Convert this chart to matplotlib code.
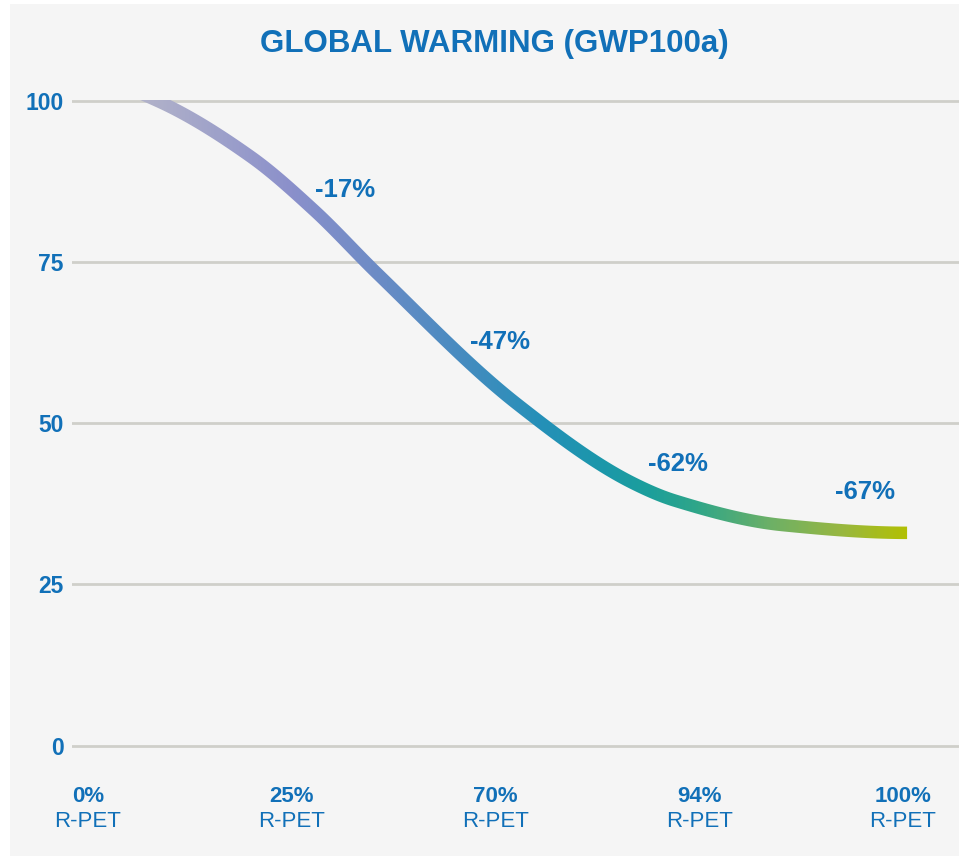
import numpy as np
import matplotlib
matplotlib.use('Agg')
import matplotlib.pyplot as plt
from matplotlib.colors import LinearSegmentedColormap
from matplotlib.patches import Polygon, Rectangle

plt.rcParams['font.family'] = ['Liberation Sans', 'DejaVu Sans']

title = 'GLOBAL WARMING (GWP100a)'
categories = ['0%', '25%', '70%', '94%', '100%']
sub_label = 'R-PET'
y_ticks = [0, 25, 50, 75, 100]

# relative GWP along the curve (x in category units)
curve_x = [0.34, 0.80, 1.11, 1.42, 2.105, 2.675, 2.88, 3.41, 4.02]
curve_y = [100, 91.3, 83, 73.2, 53, 40.7, 38, 34.2, 33]
# curve points carrying a reduction label
label_idx = [2, 4, 6, 8]
label_offsets = [(31, 20), (-17, 62), (3, 37), (-42, 41)]  # pixels

BLUE = '#1170b8'
BG = '#f5f5f5'
GRID = '#cfcfca'
LINE_W = 12.5  # px

# gradient stops along x (category units)
grad_stops = [(0.30, '#b0b1c9'), (0.99, '#8b90cb'), (1.38, '#6f8cc6'),
              (1.78, '#4b8bc1'), (2.22, '#2590b8'), (2.51, '#1b97ab'),
              (2.76, '#1c9f9b'), (3.00, '#30a688'), (3.35, '#6cb067'),
              (3.69, '#97b742'), (4.02, '#b2c004')]


def pchip(x, y, xs):
    x = np.asarray(x, float)
    y = np.asarray(y, float)
    h = np.diff(x)
    d = np.diff(y) / h
    n = len(x)
    m = np.zeros(n)
    for k in range(1, n - 1):
        if d[k - 1] * d[k] > 0:
            w1 = 2 * h[k] + h[k - 1]
            w2 = h[k] + 2 * h[k - 1]
            m[k] = (w1 + w2) / (w1 / d[k - 1] + w2 / d[k])
    for k, (a, b, da, db) in ((0, (h[0], h[1], d[0], d[1])), (n - 1, (h[-1], h[-2], d[-1], d[-2]))):
        v = ((2 * a + b) * da - a * db) / (a + b)
        if np.sign(v) != np.sign(da):
            v = 0.0
        m[k] = v
    idx = np.clip(np.searchsorted(x, xs) - 1, 0, n - 2)
    t = (xs - x[idx]) / h[idx]
    h00 = 2 * t**3 - 3 * t**2 + 1
    h10 = t**3 - 2 * t**2 + t
    h01 = -2 * t**3 + 3 * t**2
    h11 = t**3 - t**2
    ys = h00 * y[idx] + h10 * h[idx] * m[idx] + h01 * y[idx + 1] + h11 * h[idx] * m[idx + 1]
    # straight continuation before the first point
    before = xs < x[0]
    ys[before] = y[0] + m[0] * (xs[before] - x[0])
    return ys


W, H = 959, 856
fig = plt.figure(figsize=(W / 100, H / 100), dpi=100)
fig.patch.set_facecolor('white')
fig.add_artist(Rectangle((10 / W, 0), 1, (H - 4) / H, transform=fig.transFigure,
                         facecolor=BG, edgecolor='none', zorder=0))

# axes placed in pixels: x from 72 to right edge, y value -3 at 765px, 103 at 81.4px
top_px, bot_px = 81.4, 765.0
ax = fig.add_axes([72 / W, 1 - bot_px / H, (W - 72) / W, (bot_px - top_px) / H])
ax.set_facecolor('none')
for s in ax.spines.values():
    s.set_visible(False)

ax.set_yticks(y_ticks)
ax.set_yticklabels([str(v) for v in y_ticks])
ax.tick_params(axis='y', length=0, pad=6, labelsize=16.5, labelcolor=BLUE)
for lab in ax.get_yticklabels():
    lab.set_fontweight('bold')
ax.set_xticks([])
ax.grid(axis='y', color=GRID, linewidth=2)
ax.set_axisbelow(True)
ax.set_xlim(-0.0785, 4.2748)
ax.set_ylim(-3, 103)

# x category labels
for i, cat in enumerate(categories):
    ax.annotate(cat, xy=(i, 0), xytext=(0, -51), textcoords='offset pixels',
                ha='center', va='center', fontsize=16, fontweight='bold', color=BLUE)
    ax.annotate(sub_label, xy=(i, 0), xytext=(0, -76), textcoords='offset pixels',
                ha='center', va='center', fontsize=16, color=BLUE)

# thick gradient curve: stroke outline built in pixel space, filled by a gradient image
xs = np.linspace(curve_x[0] - 0.1, curve_x[-1], 1200)
ys = pchip(curve_x, curve_y, xs)
pts = ax.transData.transform(np.column_stack([xs, ys]))
tang = np.gradient(pts, axis=0)
tang /= np.linalg.norm(tang, axis=1)[:, None]
norm = np.column_stack([-tang[:, 1], tang[:, 0]])
outline = np.vstack([pts + norm * LINE_W / 2, (pts - norm * LINE_W / 2)[::-1]])
outline = ax.transData.inverted().transform(outline)
stroke = Polygon(outline, closed=True, transform=ax.transData)

g0, g1 = 0.2, 4.15
cmap = LinearSegmentedColormap.from_list(
    'gwp', [((p - g0) / (g1 - g0), c) for p, c in
            [(g0, grad_stops[0][1])] + grad_stops + [(g1, grad_stops[-1][1])]])
grad = np.linspace(0, 1, 1024).reshape(1, -1)
im = ax.imshow(grad, cmap=cmap, extent=[g0, g1, -3, 100], aspect='auto',
               interpolation='bilinear', zorder=3)
im.set_clip_path(stroke)
ax.set_xlim(-0.0785, 4.2748)
ax.set_ylim(-3, 103)

# reduction labels
for i, (dx, dy) in zip(label_idx, label_offsets):
    ax.annotate(f'{curve_y[i] - 100:.0f}%', xy=(curve_x[i], curve_y[i]),
                xytext=(dx, dy), textcoords='offset pixels',
                ha='center', va='center', fontsize=18.5, fontweight='bold',
                color=BLUE, zorder=4)

fig.text(494 / W, 1 - 52 / H, title, ha='center', va='baseline',
         fontsize=22.5, fontweight='bold', color=BLUE)

fig.savefig('out.png', dpi=100)
